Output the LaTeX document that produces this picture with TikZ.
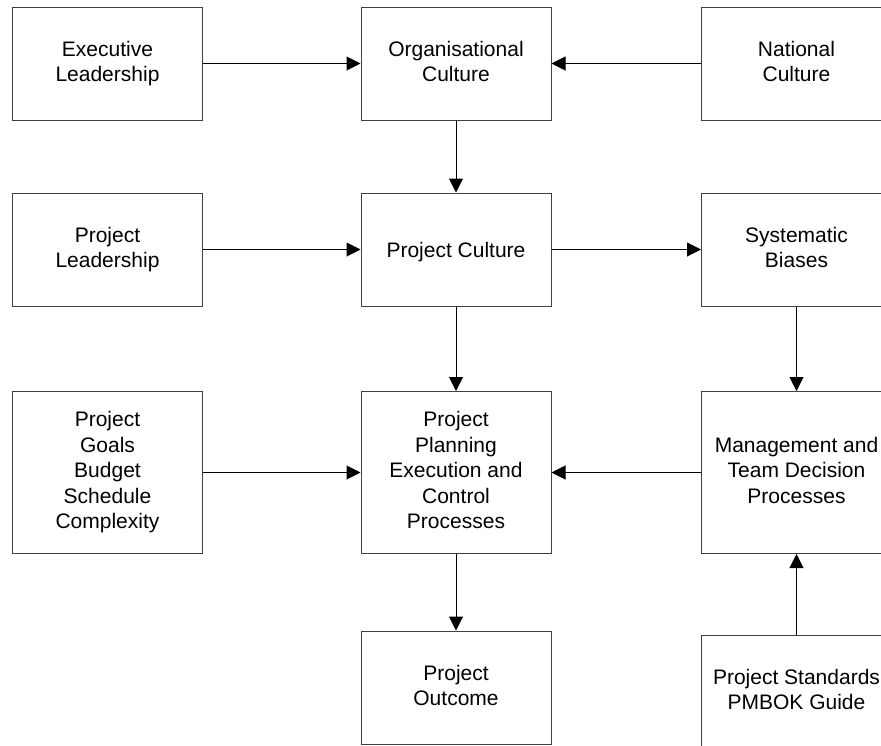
\documentclass[tikz,border=0pt]{standalone}
\usepackage{fontspec}
\setmainfont{Liberation Sans}
\usetikzlibrary{arrows.meta}
% uniform line box so every label is centred on its lines, not its glyphs
\newcommand{\linestrut}{\rule[-4.3pt]{0pt}{25.5pt}}
\begin{document}
\begin{tikzpicture}[x=1pt,y=-1pt,
  box/.style={draw=black!75,line width=1pt,fill=white,inner sep=0pt,align=center,
    minimum width=190pt,font=\fontsize{21}{25.5}\selectfont,
    execute at begin node=\linestrut,execute at end node=\linestrut},
  rowbox/.style={box,minimum height=113pt},
  tallbox/.style={box,minimum height=162pt},
  link/.style={draw=black,line width=1pt,-{Triangle[length=14pt,width=14pt]}}]
\useasboundingbox (0,0) rectangle (881,745);
\clip (0,0) rectangle (881,745);
\fill[white] (0,0) rectangle (881,745);

% top row
\node[rowbox] (exec) at (107.5,63.5) {Executive\\Leadership};
\node[rowbox] (org)  at (456,63.5)   {Organisational\\Culture};
\node[rowbox] (nat)  at (796.5,63.5) {National\\Culture};

% second row
\node[rowbox] (plead) at (107.5,249.5) {Project\\Leadership};
\node[rowbox] (pcult) at (456,249.5)   {Project Culture};
\node[rowbox] (bias)  at (796.5,249.5) {Systematic\\Biases};

% third row
\node[tallbox] (goals) at (107.5,472.5) {Project\\Goals\\Budget\\Schedule\\Complexity};
\node[tallbox] (plan)  at (456,472.5)   {Project\\Planning\\Execution and\\Control\\Processes};
\node[tallbox] (mgmt)  at (796.5,472.5) {Management and\\Team Decision\\Processes};

% bottom row
\node[rowbox] (outc) at (456,687.5)   {Project\\Outcome};
\node[rowbox] (std)  at (796.5,691.5) {Project Standards\\PMBOK Guide};

% influences
\draw[link] (exec) -- (org);
\draw[link] (nat) -- (org);
\draw[link] (org) -- (pcult);
\draw[link] (plead) -- (pcult);
\draw[link] (pcult) -- (bias);
\draw[link] (pcult) -- (plan);
\draw[link] (bias) -- (mgmt);
\draw[link] (goals) -- (plan);
\draw[link] (mgmt) -- (plan);
\draw[link] (plan) -- (outc);
\draw[link] (std) -- (mgmt);
\end{tikzpicture}
\end{document}
